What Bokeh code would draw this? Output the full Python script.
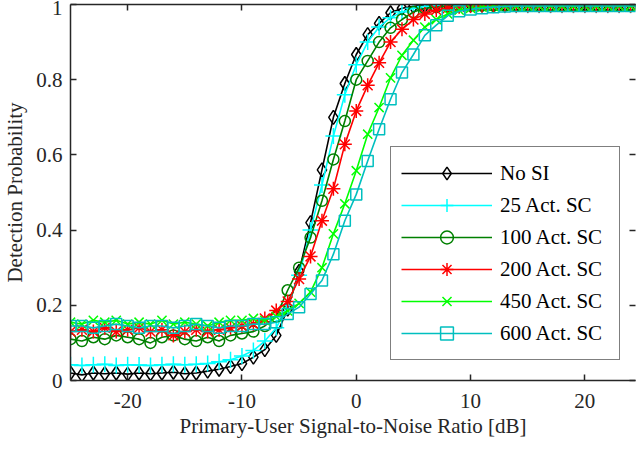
from bokeh.plotting import figure
from bokeh.models import Range1d, LinearAxis, FixedTicker, Legend
from bokeh.embed import file_html
from bokeh.resources import INLINE

snr_db = list(range(-25, 26))

no_si = [0.02, 0.015, 0.02, 0.018, 0.02, 0.017, 0.02, 0.018, 0.02, 0.022, 0.018, 0.02, 0.025,
         0.03, 0.037, 0.045, 0.062, 0.082, 0.12, 0.19, 0.29, 0.42, 0.56, 0.70, 0.79, 0.867,
         0.92, 0.95, 0.978, 0.99, 0.995, 0.997, 0.998, 0.999, 0.999, 0.999, 0.999, 0.999, 0.999,
         0.999, 0.999, 0.999, 0.999, 0.999, 0.999, 0.999, 0.999, 0.999, 0.999, 0.999, 0.999]
sc_25 = [0.042, 0.04, 0.042, 0.043, 0.04, 0.042, 0.041, 0.04, 0.042, 0.043, 0.042, 0.043, 0.045,
         0.05, 0.055, 0.065, 0.08, 0.105, 0.14, 0.20, 0.28, 0.40, 0.52, 0.65, 0.76, 0.84,
         0.90, 0.94, 0.965, 0.98, 0.99, 0.995, 0.997, 0.998, 0.998, 0.998, 0.998, 0.998, 0.998,
         0.998, 0.998, 0.998, 0.998, 0.998, 0.998, 0.998, 0.998, 0.998, 0.998, 0.998, 0.998]
sc_100 = [0.11, 0.105, 0.115, 0.11, 0.12, 0.115, 0.11, 0.10, 0.115, 0.12, 0.11, 0.105, 0.115,
          0.105, 0.12, 0.125, 0.13, 0.145, 0.17, 0.24, 0.30, 0.38, 0.478, 0.588, 0.69, 0.80,
          0.85, 0.90, 0.938, 0.96, 0.98, 0.99, 0.993, 0.996, 0.997, 0.997, 0.997, 0.997, 0.997,
          0.997, 0.997, 0.997, 0.997, 0.997, 0.997, 0.997, 0.997, 0.997, 0.997, 0.997, 0.997]
sc_200 = [0.13, 0.135, 0.13, 0.14, 0.13, 0.135, 0.14, 0.13, 0.135, 0.12, 0.13, 0.135, 0.13,
          0.135, 0.14, 0.145, 0.15, 0.165, 0.186, 0.21, 0.27, 0.33, 0.425, 0.51, 0.628, 0.717,
          0.785, 0.845, 0.90, 0.934, 0.96, 0.975, 0.985, 0.99, 0.994, 0.996, 0.997, 0.997, 0.997,
          0.997, 0.997, 0.997, 0.997, 0.997, 0.997, 0.997, 0.997, 0.997, 0.997, 0.997, 0.997]
sc_450 = [0.155, 0.15, 0.16, 0.155, 0.16, 0.15, 0.155, 0.15, 0.16, 0.15, 0.155, 0.15, 0.145,
          0.155, 0.16, 0.16, 0.165, 0.16, 0.17, 0.185, 0.205, 0.235, 0.30, 0.39, 0.47, 0.558,
          0.655, 0.726, 0.805, 0.865, 0.905, 0.94, 0.96, 0.975, 0.985, 0.99, 0.993, 0.995, 0.996,
          0.996, 0.996, 0.996, 0.996, 0.996, 0.996, 0.996, 0.996, 0.996, 0.996, 0.996, 0.996]
sc_600 = [0.145, 0.145, 0.14, 0.145, 0.15, 0.145, 0.14, 0.145, 0.145, 0.14, 0.145, 0.15, 0.145,
          0.14, 0.145, 0.145, 0.15, 0.15, 0.155, 0.177, 0.195, 0.23, 0.266, 0.336, 0.425, 0.495,
          0.584, 0.668, 0.748, 0.819, 0.867, 0.918, 0.945, 0.97, 0.982, 0.987, 0.99, 0.993, 0.995,
          0.996, 0.996, 0.996, 0.996, 0.996, 0.996, 0.996, 0.996, 0.996, 0.996, 0.996, 0.996]

series_labels = ["No SI", "25 Act. SC", "100 Act. SC", "200 Act. SC", "450 Act. SC", "600 Act. SC"]
series_values = [no_si, sc_25, sc_100, sc_200, sc_450, sc_600]
series_colors = ["#000000", "#00FFFF", "#008000", "#FF0000", "#00FF00", "#00BFBF"]
series_markers = ["diamond", "cross", "circle", "asterisk", "x", "square"]
marker_sizes = [14, 16, 11, 14, 13, 11]

x_ticks = [-20, -10, 0, 10, 20]
x_tick_labels = {-20: "-20", -10: "-10", 0: "0", 10: "10", 20: "20"}
y_ticks = [0, 0.2, 0.4, 0.6, 0.8, 1]
y_tick_labels = {0: "0", 0.2: "0.2", 0.4: "0.4", 0.6: "0.6", 0.8: "0.8", 1: "1"}

FONT = "Liberation Serif"
FS = "21px"
AX = "#262626"

p = figure(frame_width=565, frame_height=376,
           x_range=Range1d(-25, 24.43), y_range=Range1d(0, 1),
           output_backend="svg", toolbar_location=None,
           min_border_left=66, min_border_right=1, min_border_top=4, min_border_bottom=64)
p.outline_line_color = None
p.grid.visible = False
p.background_fill_color = "white"

legend_items = []
for lab, vals, col, mk, ms in zip(series_labels, series_values, series_colors, series_markers, marker_sizes):
    r1 = p.line(snr_db, vals, line_color=col, line_width=1.6)
    r2 = p.scatter(snr_db, vals, marker=mk, size=ms, line_color=col, fill_color=None, line_width=1.5)
    legend_items.append((lab, [r1, r2]))


def style_axis(ax, ticks, labels=True):
    ax.axis_line_color = AX
    ax.axis_line_width = 1.5
    ax.major_tick_in = 6
    ax.major_tick_out = 0
    ax.major_tick_line_color = AX
    ax.major_tick_line_width = 1.5
    ax.minor_tick_line_color = None
    ax.major_label_text_font = FONT
    ax.major_label_text_font_size = FS
    ax.major_label_text_color = AX
    ax.axis_label_text_font = FONT
    ax.axis_label_text_font_size = FS
    ax.axis_label_text_font_style = "normal"
    ax.axis_label_text_color = AX
    if not labels:
        ax.major_label_overrides = {t: "" for t in ticks}
        ax.major_label_text_font_size = "1px"
        ax.major_label_text_color = None
        ax.major_label_standoff = 0


xa = p.xaxis[0]
xa.ticker = FixedTicker(ticks=x_ticks)
xa.major_label_overrides = x_tick_labels
xa.axis_label = "Primary-User Signal-to-Noise Ratio [dB]"
style_axis(xa, x_ticks)
xa.major_label_standoff = 13
xa.axis_label_standoff = 3

ya = p.yaxis[0]
ya.ticker = FixedTicker(ticks=y_ticks)
ya.major_label_overrides = y_tick_labels
ya.axis_label = "Detection Probability"
style_axis(ya, y_ticks)
ya.major_label_standoff = 8
ya.axis_label_standoff = 6

top = LinearAxis(ticker=FixedTicker(ticks=x_ticks))
style_axis(top, x_ticks, labels=False)
p.add_layout(top, "above")

right = LinearAxis(ticker=FixedTicker(ticks=y_ticks))
style_axis(right, y_ticks, labels=False)
right.axis_line_color = None
p.add_layout(right, "right")

legend = Legend(items=legend_items, location=(320, 20))
legend.label_text_font = FONT
legend.label_text_font_size = FS
legend.label_text_color = "#000000"
legend.glyph_width = 91
legend.glyph_height = 32
legend.label_height = 32
legend.label_width = 109
legend.label_standoff = 8
legend.spacing = 0
legend.padding = 10
legend.margin = 0
legend.border_line_color = "#000000"
legend.border_line_width = 1.5
legend.background_fill_color = "white"
legend.background_fill_alpha = 1.0
p.add_layout(legend, "center")

open("out.html", "w").write(file_html(p, INLINE))
